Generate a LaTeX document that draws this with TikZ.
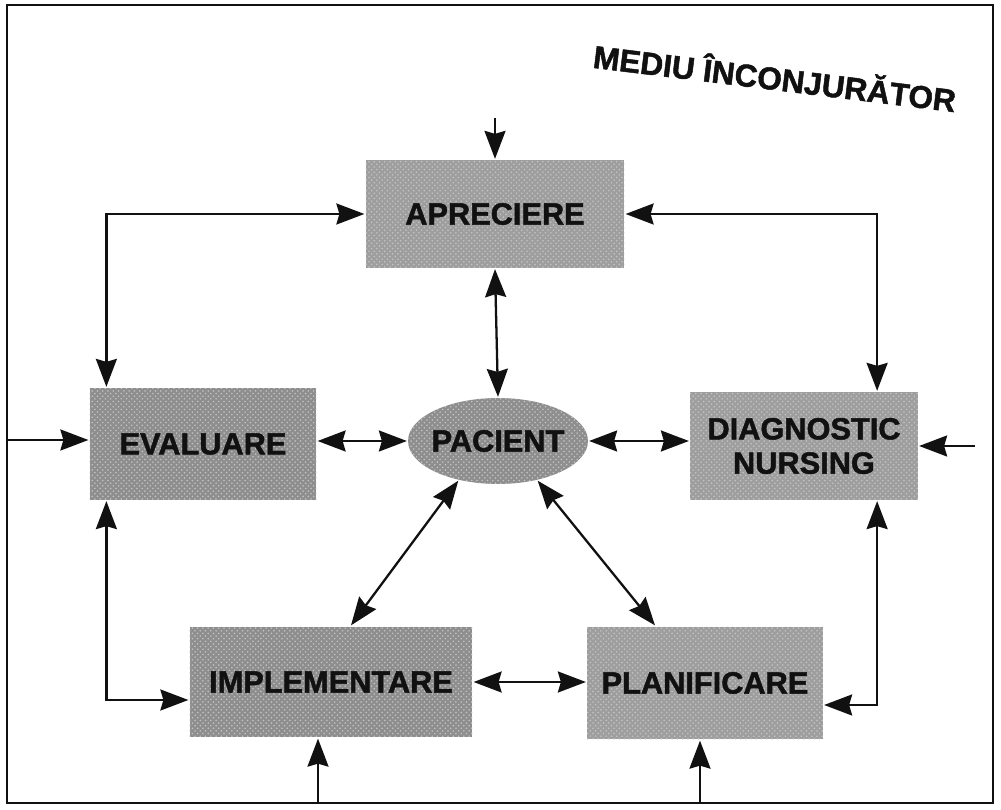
\documentclass[tikz,border=0pt]{standalone}
\usepackage{fontspec}
\setsansfont{Liberation Sans}[BoldFeatures={FakeBold=1.6}]
\usetikzlibrary{arrows.meta, positioning, shapes.geometric, calc, patterns}
\definecolor{cbox}{HTML}{8E8E8E}
\definecolor{cboxl}{HTML}{9E9E9E}
\definecolor{cdot}{HTML}{C4C4C4}
\definecolor{cink}{HTML}{111111}
\tikzset{
  every picture/.style={font=\sffamily, line width=1.3pt},
  box/.style={fill=#1, postaction={pattern=crosshatch dots, pattern color=cdot}, align=center, inner sep=4pt,
    font=\sffamily\bfseries\fontsize{17.5}{19.5}\selectfont, text=cink},
  box/.default=cbox,
  arrow/.style={-{Stealth[length=5.6mm, width=4.2mm, inset=0.6mm]}, draw=cink},
  both/.style={{Stealth[length=5.6mm, width=4.2mm, inset=0.6mm]}-{Stealth[length=5.6mm, width=4.2mm, inset=0.6mm]}, draw=cink},
  title/.style={font=\sffamily\bfseries\fontsize{18}{20}\selectfont, text=cink},
}

\begin{document}
\begin{tikzpicture}[x=0.02cm, y=-0.02cm]
  \useasboundingbox (0,0) rectangle (1001,810);
  \draw[cink, line width=1.4pt] (7,5) rectangle (993,803);
  \node[title, rotate=-7] (mediu) at (775,76) {MEDIU ÎNCONJURĂTOR};

  % the six parts of the process
  \node[box=cboxl, minimum width=5.18cm, minimum height=2.16cm] (aprec) at (495,214) {APRECIERE};
  \node[box, minimum width=4.54cm, minimum height=2.24cm] (eval) at (203,444) {EVALUARE};
  \node[ellipse, box, inner sep=0pt, minimum width=3.6cm, minimum height=1.72cm] (pac) at (498,441) {\makebox[0pt]{PACIENT}};
  \node[box=cboxl, minimum width=4.56cm, minimum height=2.16cm] (diag) at (804,446) {DIAGNOSTIC\\NURSING};
  \node[box, minimum width=5.66cm, minimum height=2.22cm] (impl) at (331,682) {IMPLEMENTARE};
  \node[box=cboxl, minimum width=4.72cm, minimum height=2.26cm] (plan) at (705,683) {PLANIFICARE};

  % inputs from the environment
  \coordinate (inT) at (495,118);
  \coordinate (inL) at (7,440);
  \coordinate (inR) at (975,446);
  \coordinate (inB1) at (318,803);
  \coordinate (inB2) at (700,803);
  \draw[arrow] (inT) -- (aprec.north);
  \draw[arrow] (inL) -- (inL -| eval.west);
  \draw[arrow] (inR) -- (inR -| diag.east);
  \draw[arrow] (inB1) -- (inB1 |- impl.south);
  \draw[arrow] (inB2) -- (inB2 |- plan.south);

  % links between the parts
  \draw[both] (aprec.west) -| ([xshift=0.36cm]eval.north west);
  \draw[both] (aprec.east) -| ([xshift=-0.84cm]diag.north east);
  \draw[both] ([xshift=0.36cm]eval.south west) |- ([yshift=-0.36cm]impl.west);
  \draw[both] ([xshift=-0.84cm]diag.south east) |- ([yshift=-0.44cm]plan.east);
  \draw[both] (aprec.south) -- (pac.north);
  \draw[both] (eval.east |- pac.west) -- (pac.west);
  \draw[both] (pac.east) -- (diag.west |- pac.east);
  \draw[both] (pac.225) -- ([xshift=0.4cm]impl.north);
  \draw[both] (pac.315) -- ([xshift=-1cm]plan.north);
  \draw[both] (impl.east) -- (plan.west |- impl.east);
\end{tikzpicture}
\end{document}
